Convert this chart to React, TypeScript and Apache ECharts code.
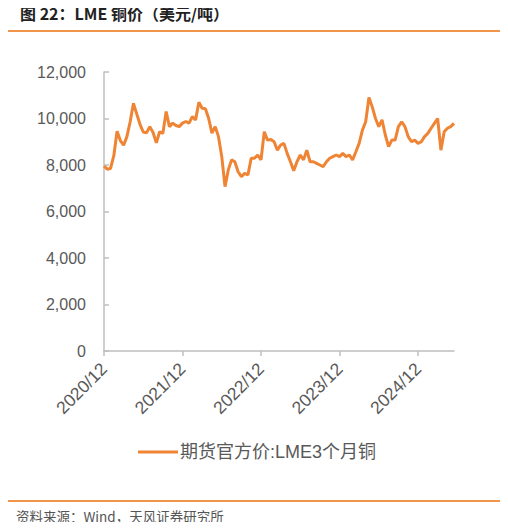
import React, { useEffect, useRef } from 'react'
import * as echarts from 'echarts'

// 半月频数据点（每年 24 个），起点对应 2020/12 刻度
const pointsPerYear = 24
const xTickLabels = ['2020/12', '2021/12', '2022/12', '2023/12', '2024/12']
const yTicks = [0, 2000, 4000, 6000, 8000, 10000, 12000]

const seriesName = '期货官方价:LME3个月铜'

// LME 3个月铜价（美元/吨）
const copperPrices = [
  7950, 7820, 7850, 8400, 9450, 9050, 8850, 9220, 9860, 10650,
  10200, 9750, 9420, 9380, 9650, 9400, 8950, 9430, 9360, 10300,
  9650, 9800, 9700, 9650, 9800, 9870, 9800, 10080, 9940, 10700,
  10440, 10420, 10000, 9370, 9650, 9220, 8360, 7070, 7790, 8220,
  8140, 7710, 7500, 7640, 7570, 8290, 8290, 8430, 8220, 9430,
  9070, 9100, 9000, 8640, 8860, 8930, 8500, 8140, 7750, 8140,
  8430, 8220, 8640, 8140, 8140, 8070, 8000, 7930, 8140, 8290,
  8360, 8430, 8360, 8500, 8360, 8430, 8220, 8570, 8930, 9500,
  9860, 10900, 10500, 10000, 9650, 9940, 9290, 8790, 9070, 9070,
  9650, 9860, 9650, 9220, 9000, 9070, 8930, 9000, 9220, 9360,
  9580, 9790, 10000, 8640, 9430, 9580, 9650, 9790,
]

const categories = copperPrices.map((_, i) => String(i))

const ORANGE = '#EE8434'
const TEXT = '#595959'
const AXIS = '#BFBFBF'
const FONT = '"Liberation Sans", "Noto Sans CJK SC", sans-serif'

export default function App() {
  const chartRef = useRef<HTMLDivElement>(null)

  useEffect(() => {
    if (!chartRef.current) return
    const chart = echarts.init(chartRef.current, undefined, { renderer: 'svg' })

    const isTick = (index: number) => index % pointsPerYear === 0

    chart.setOption({
      animation: false,
      textStyle: { fontFamily: FONT },
      grid: { left: 104, right: 54, top: 72, bottom: 179, containLabel: false },
      graphic: [
        {
          type: 'text',
          left: 20,
          top: 5,
          style: {
            text: '图 22：LME 铜价（美元/吨）',
            fontSize: 16,
            fontWeight: 'bold',
            fill: '#222',
            fontFamily: '"Noto Sans CJK SC", sans-serif',
          },
        },
        {
          type: 'rect',
          shape: { x: 5, y: 30, width: 497, height: 2 },
          style: { fill: '#F0954A' },
        },
        {
          type: 'rect',
          shape: { x: 5, y: 500, width: 497, height: 2 },
          style: { fill: '#F0954A' },
        },
        {
          type: 'text',
          left: 16,
          top: 509,
          style: {
            text: '资料来源：Wind，天风证券研究所',
            fontSize: 13.5,
            fill: '#555',
            fontFamily: '"Noto Sans CJK SC", sans-serif',
          },
        },
      ],
      legend: {
        left: 133,
        top: 438,
        icon: 'rect',
        itemWidth: 40,
        itemHeight: 3,
        itemGap: 10,
        textStyle: { color: TEXT, fontSize: 18, fontFamily: FONT, padding: [0, 0, 0, -3] },
        data: [seriesName],
      },
      xAxis: {
        type: 'category',
        data: categories,
        boundaryGap: false,
        axisLine: { lineStyle: { color: AXIS, width: 1.5 } },
        axisTick: {
          show: true,
          interval: (index: number) => isTick(index),
          length: 5,
          lineStyle: { color: AXIS, width: 1.5 },
        },
        axisLabel: {
          interval: (index: number) => isTick(index),
          rotate: 45,
          margin: 15,
          color: TEXT,
          fontSize: 17.5,
          formatter: (_: string, index: number) => xTickLabels[index / pointsPerYear] ?? '',
        },
        splitLine: { show: false },
      },
      yAxis: {
        type: 'value',
        min: yTicks[0],
        max: yTicks[yTicks.length - 1],
        interval: 2000,
        axisLine: { show: true, lineStyle: { color: AXIS, width: 1.5 } },
        axisTick: { show: true, inside: true, length: 5, lineStyle: { color: AXIS, width: 1.5 } },
        axisLabel: {
          color: TEXT,
          fontSize: 16,
          margin: 18,
          formatter: (v: number) => v.toLocaleString('en-US'),
        },
        splitLine: { show: false },
      },
      series: [
        {
          name: seriesName,
          type: 'line',
          data: copperPrices,
          showSymbol: false,
          symbol: 'none',
          lineStyle: { color: ORANGE, width: 3 },
          itemStyle: { color: ORANGE },
        },
      ],
    })

    return () => chart.dispose()
  }, [])

  return <div ref={chartRef} style={{ width: 508, height: 530, margin: -8 }} />
}
